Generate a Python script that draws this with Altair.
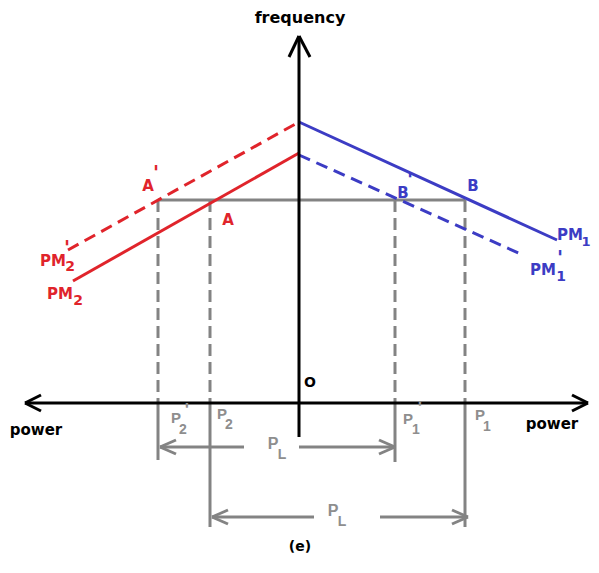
import altair as alt
import pandas as pd

# ---- coordinate frame: power (x, O at 0) and frequency (y, O at 0) ----
X_DOMAIN = [-291, 292]
Y_DOMAIN = [-162, 395]

RED = "#e0242b"
BLUE = "#3c3cc4"
GRAY = "#838383"
LABEL_GRAY = "#8e8e8e"
BLACK = "#000000"

# droop characteristics (start power, start freq, end power, end freq)
pm_names = ["PM2", "PM2'", "PM1", "PM1'"]
pm_x1 = [-226, -231, 0, 0]
pm_y1 = [122, 153, 281, 248]
pm_x2 = [0, 0, 258, 224]
pm_y2 = [250, 281, 163, 148]
pm_color = [RED, RED, BLUE, BLUE]
pm_dashed = [False, True, False, True]

# operating points and common frequency
f_op = 203
op_names = ["P2'", "P2", "P1'", "P1"]
op_power = [-141, -89, 96, 166]
op_drop = [-57, -124, -59, -124]   # extent of solid guide below the axis

# load-sharing arrows (PL)
pl_y = [-44, -114]
pl_left = [-139, -87]
pl_right = [96, 169]
pl_gap_left = [-55, 15]
pl_gap_right = [0, 81]

# axes
h_axis = [-274, 289]
v_axis = [-34, 367]

rows_solid = []
rows_dash = []
for i in range(len(pm_names)):
    r = dict(x=pm_x1[i], y=pm_y1[i], x2=pm_x2[i], y2=pm_y2[i], c=pm_color[i])
    (rows_dash if pm_dashed[i] else rows_solid).append(r)

# black axes + arrowheads
rows_axes = [
    dict(x=h_axis[0], y=0, x2=h_axis[1], y2=0),
    dict(x=0, y=v_axis[0], x2=0, y2=v_axis[1]),
    dict(x=0, y=v_axis[1], x2=-10, y2=v_axis[1] - 21),
    dict(x=0, y=v_axis[1], x2=11, y2=v_axis[1] - 21),
    dict(x=h_axis[0], y=0, x2=h_axis[0] + 16, y2=8),
    dict(x=h_axis[0], y=0, x2=h_axis[0] + 16, y2=-8),
    dict(x=h_axis[1], y=0, x2=h_axis[1] - 16, y2=8),
    dict(x=h_axis[1], y=0, x2=h_axis[1] - 16, y2=-8),
]

# gray construction lines
rows_gray = [dict(x=op_power[0], y=f_op, x2=op_power[3], y2=f_op)]
for i in range(len(op_power)):
    rows_gray.append(dict(x=op_power[i], y=0, x2=op_power[i], y2=op_drop[i]))
for i in range(len(pl_y)):
    y = pl_y[i]
    rows_gray += [
        dict(x=pl_left[i], y=y, x2=pl_gap_left[i], y2=y),
        dict(x=pl_gap_right[i], y=y, x2=pl_right[i], y2=y),
        dict(x=pl_left[i], y=y, x2=pl_left[i] + 16, y2=y + 7),
        dict(x=pl_left[i], y=y, x2=pl_left[i] + 16, y2=y - 7),
        dict(x=pl_right[i], y=y, x2=pl_right[i] - 16, y2=y + 7),
        dict(x=pl_right[i], y=y, x2=pl_right[i] - 16, y2=y - 7),
    ]
rows_gray_dash = [dict(x=p, y=f_op, x2=p, y2=0) for p in op_power]

# labels: text, x, y, color, size
bold_text = [
    ("frequency", 1, 385, BLACK, 16),
    ("power", -263, -27, BLACK, 15),
    ("power", 253, -21, BLACK, 15),
    ("O", 11, 20, BLACK, 14),
    ("(e)", 1, -144, BLACK, 14),
    ("A", -151, 217, RED, 15), ("'", -143, 230, RED, 20),
    ("A", -71, 183, RED, 15),
    ("B", 104, 210, BLUE, 15), ("'", 111, 223, BLUE, 20),
    ("B", 174, 217, BLUE, 15),
    ("PM", -246, 142, RED, 15), ("2", -229, 136, RED, 14), ("'", -232, 155, RED, 20),
    ("PM", -239, 109, RED, 15), ("2", -221, 102, RED, 14),
    ("PM", 271, 168, BLUE, 15), ("1", 287, 161, BLUE, 13),
    ("PM", 244, 133, BLUE, 15), ("1", 262, 126, BLUE, 14), ("'", 261, 145, BLUE, 20),
]
gray_text = [
    ("P", -123, -15, LABEL_GRAY, 15), ("'", -112, -8, LABEL_GRAY, 18), ("2", -116, -27, LABEL_GRAY, 14),
    ("P", -77, -11, LABEL_GRAY, 15), ("2", -70, -22, LABEL_GRAY, 14),
    ("P", 109, -16, LABEL_GRAY, 15), ("'", 121, -6, LABEL_GRAY, 18), ("1", 117, -27, LABEL_GRAY, 14),
    ("P", 181, -12, LABEL_GRAY, 15), ("1", 188, -24, LABEL_GRAY, 14),
    ("P", -26, -41, LABEL_GRAY, 16), ("L", -17, -52, LABEL_GRAY, 14),
    ("P", 34, -108, LABEL_GRAY, 16), ("L", 43, -119, LABEL_GRAY, 14),
]

xs = alt.Scale(domain=X_DOMAIN, nice=False, zero=False)
ys = alt.Scale(domain=Y_DOMAIN, nice=False, zero=False)


def seg_layer(rows, width, color=None, dash=None):
    df = pd.DataFrame(rows)
    kw = dict(strokeWidth=width, strokeCap="butt")
    if dash:
        kw["strokeDash"] = dash
    if color:
        kw["color"] = color
    enc = dict(
        x=alt.X("x:Q", scale=xs, axis=None),
        y=alt.Y("y:Q", scale=ys, axis=None),
        x2="x2:Q",
        y2="y2:Q",
    )
    if not color:
        enc["color"] = alt.Color("c:N", scale=None)
    return alt.Chart(df).mark_rule(**kw).encode(**enc)


def text_layer(items, font, weight):
    df = pd.DataFrame(items, columns=["t", "x", "y", "c", "s"])
    return alt.Chart(df).mark_text(
        font=font, fontWeight=weight, align="center", baseline="middle"
    ).encode(
        x=alt.X("x:Q", scale=xs, axis=None),
        y=alt.Y("y:Q", scale=ys, axis=None),
        text="t:N",
        color=alt.Color("c:N", scale=None),
        size=alt.Size("s:Q", scale=None),
    )


chart = alt.layer(
    seg_layer(rows_gray_dash, 3, color=GRAY, dash=[12, 6]),
    seg_layer(rows_gray, 3, color=GRAY),
    seg_layer(rows_solid, 3),
    seg_layer(rows_dash, 3, dash=[12, 7]),
    seg_layer(rows_axes, 3, color=BLACK),
    text_layer(bold_text, "DejaVu Sans", "bold"),
    text_layer(gray_text, "Liberation Sans", "bold"),
).properties(
    width=583,
    height=557,
    autosize=alt.AutoSizeParams(type="none"),
    padding=0,
).configure_view(stroke=None)

chart.save("out.html", embed_options={"renderer": "svg", "actions": False})
